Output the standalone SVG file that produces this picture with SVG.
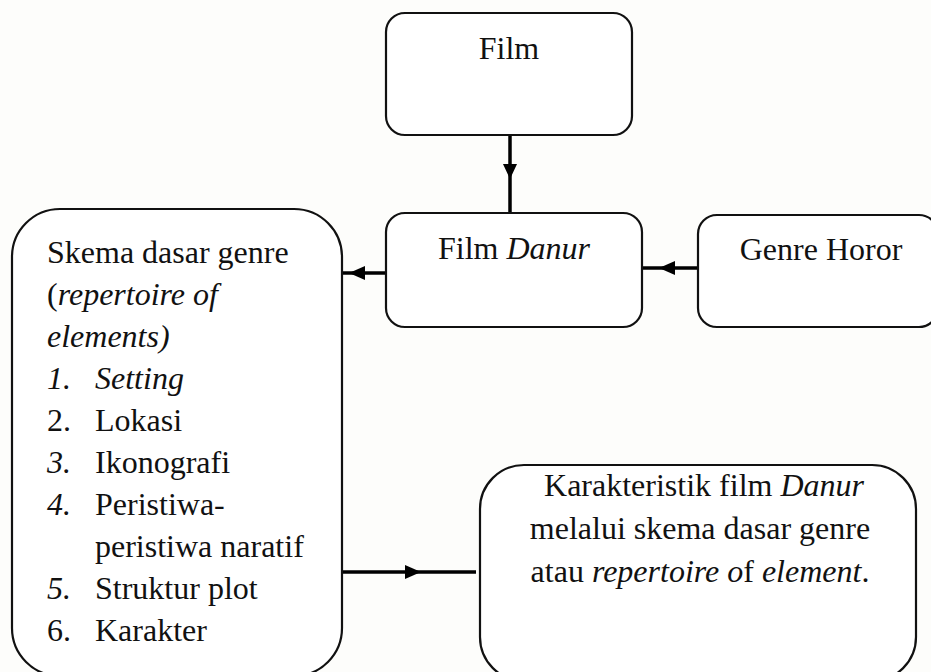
<svg xmlns="http://www.w3.org/2000/svg" width="931" height="672" viewBox="0 0 931 672">
<defs>
<style>
.box{fill:#ffffff;stroke:#111;stroke-width:2.2}
.t{font-family:"Liberation Serif","Times New Roman",serif;font-size:32px;fill:#111}
.i{font-style:italic}
.c{stroke:#000;stroke-width:3.5;fill:none}
.ah{fill:#000}
</style>
</defs>
<rect width="931" height="672" fill="#fdfdfb"/>
<g id="connectors">
<line class="c" x1="510" y1="135" x2="510" y2="213"/>
<polygon class="ah" points="503,164 517,164 510,179"/>
<line class="c" x1="386" y1="273" x2="343" y2="273"/>
<polygon class="ah" points="349,273 365,266 365,280"/>
<line class="c" x1="698" y1="268" x2="642" y2="268"/>
<polygon class="ah" points="659,268 675,261 675,275"/>
<line class="c" x1="343" y1="572" x2="476" y2="572"/>
<polygon class="ah" points="421,572 405,565 405,579"/>
</g>
<g id="film">
<rect class="box" x="386" y="13" width="246" height="122" rx="19"/>
<text class="t" x="509" y="59" text-anchor="middle">Film</text>
</g>
<g id="film-danur">
<rect class="box" x="386" y="213" width="256" height="114" rx="19"/>
<text class="t" x="514" y="259" text-anchor="middle">Film <tspan class="i">Danur</tspan></text>
</g>
<g id="genre-horor">
<rect class="box" x="698" y="215" width="240" height="112" rx="19"/>
<text class="t" x="821" y="260" text-anchor="middle">Genre Horor</text>
</g>
<g id="skema">
<rect class="box" x="12" y="209" width="330" height="467" rx="48"/>
<text class="t" x="47" y="263">Skema dasar genre</text>
<text class="t" x="47" y="305">(<tspan class="i">repertoire of</tspan></text>
<text class="t i" x="47" y="347">elements)</text>
<text class="t i" x="47" y="389">1.</text><text class="t i" x="95" y="389">Setting</text>
<text class="t" x="47" y="431">2.</text><text class="t" x="95" y="431">Lokasi</text>
<text class="t i" x="47" y="473">3.</text><text class="t" x="95" y="473">Ikonografi</text>
<text class="t i" x="47" y="515">4.</text><text class="t" x="95" y="515">Peristiwa-</text>
<text class="t" x="95" y="557">peristiwa naratif</text>
<text class="t i" x="47" y="599">5.</text><text class="t" x="95" y="599">Struktur plot</text>
<text class="t" x="47" y="641">6.</text><text class="t" x="95" y="641">Karakter</text>
</g>
<g id="karakteristik">
<rect class="box" x="480" y="465" width="436" height="216" rx="44"/>
<text class="t" x="704" y="496" text-anchor="middle">Karakteristik film <tspan class="i">Danur</tspan></text>
<text class="t" x="700" y="539" text-anchor="middle">melalui skema dasar genre</text>
<text class="t" x="700" y="582" text-anchor="middle">atau <tspan class="i">repertoire o</tspan>f <tspan class="i">element</tspan>.</text>
</g>
</svg>
